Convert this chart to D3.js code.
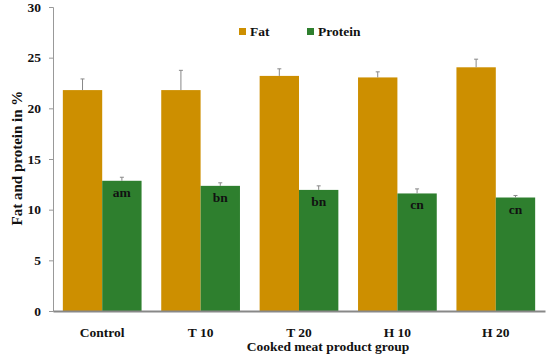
<!DOCTYPE html>
<html>
<head>
<meta charset="utf-8">
<script src="https://d3js.org/d3.v7.min.js"></script>
<style>
  body { margin: 0; background: #fff; }
  text { font-family: "Liberation Serif", "DejaVu Serif", serif; font-weight: bold; fill: #111; }
</style>
</head>
<body>
<svg id="chart" width="550" height="360"></svg>
<script>
// data
const groups = ["Control", "T 10", "T 20", "H 10", "H 20"];
const fat = [21.8, 21.8, 23.2, 23.05, 24.05];
const fatErr = [1.1, 1.95, 0.7, 0.55, 0.8];
const protein = [12.85, 12.35, 11.95, 11.6, 11.2];
const proteinErr = [0.35, 0.3, 0.4, 0.45, 0.2];
const proteinLabels = ["am", "bn", "bn", "cn", "cn"];
const yTicks = [0, 5, 10, 15, 20, 25, 30];

const colors = { Fat: "#CD8F00", Protein: "#2E7F2E" };

const svg = d3.select("#chart");
const plotL = 53, plotR = 545, plotT = 7, plotB = 311;

const x = d3.scaleBand().domain(groups).range([plotL, plotR]).paddingInner(0.2).paddingOuter(0.1);
const sub = d3.scaleBand().domain(["Fat", "Protein"]).range([0, x.bandwidth()]);
const y = d3.scaleLinear().domain([0, 30]).range([plotB, plotT]);

// y axis
const yAxis = svg.append("g")
    .attr("transform", `translate(${plotL},0)`)
    .call(d3.axisLeft(y).tickValues(yTicks).tickSize(4).tickPadding(8));
yAxis.select(".domain").attr("stroke", "#999").attr("stroke-width", 1);
yAxis.selectAll(".tick line").attr("stroke", "#999");
yAxis.selectAll(".tick text").style("font-size", "13.5px").attr("fill", "#111");

const rows = groups.map((g, i) => ({ g, fat: fat[i], fe: fatErr[i], pr: protein[i], pe: proteinErr[i], lab: proteinLabels[i] }));

// bars
const grp = svg.append("g").selectAll("g").data(rows).join("g")
    .attr("transform", d => `translate(${x(d.g)},0)`);

grp.append("rect")
    .attr("x", sub("Fat")).attr("width", sub.bandwidth())
    .attr("y", d => y(d.fat)).attr("height", d => y(0) - y(d.fat))
    .attr("fill", colors.Fat);
grp.append("rect")
    .attr("x", sub("Protein")).attr("width", sub.bandwidth())
    .attr("y", d => y(d.pr)).attr("height", d => y(0) - y(d.pr))
    .attr("fill", colors.Protein);

// error bars (upper only)
function errBar(sel, key, val, err) {
  const cx = sub(key) + sub.bandwidth() / 2;
  sel.append("line").attr("x1", cx).attr("x2", cx)
    .attr("y1", d => y(d[val])).attr("y2", d => y(d[val] + d[err]))
    .attr("stroke", "#888").attr("stroke-width", 1);
  sel.append("line").attr("x1", cx - 2).attr("x2", cx + 2)
    .attr("y1", d => y(d[val] + d[err])).attr("y2", d => y(d[val] + d[err]))
    .attr("stroke", "#888").attr("stroke-width", 1);
}
errBar(grp, "Fat", "fat", "fe");
errBar(grp, "Protein", "pr", "pe");

// letters in protein bars
grp.append("text")
    .attr("x", sub("Protein") + sub.bandwidth() / 2)
    .attr("y", d => y(d.pr) + 16)
    .attr("text-anchor", "middle")
    .style("font-size", "13.5px")
    .text(d => d.lab);

// x axis
const xAxis = svg.append("g")
    .attr("transform", `translate(0,${plotB})`)
    .call(d3.axisBottom(x).tickSize(0).tickPadding(16));
xAxis.select(".domain").attr("stroke", "#888").attr("stroke-width", 2);
xAxis.selectAll(".tick text").style("font-size", "13.5px").attr("fill", "#111");

// axis titles
svg.append("text")
    .attr("x", 328).attr("y", 351)
    .attr("text-anchor", "middle")
    .style("font-size", "13.5px")
    .text("Cooked meat product group");

svg.append("text")
    .attr("transform", "translate(22,158) rotate(-90)")
    .attr("text-anchor", "middle")
    .style("font-size", "15px")
    .text("Fat and protein in %");

// legend
const legend = [["Fat", 239], ["Protein", 307]];
legend.forEach(([name, lx]) => {
  svg.append("rect").attr("x", lx).attr("y", 28).attr("width", 7).attr("height", 7).attr("fill", colors[name]);
  svg.append("text").attr("x", lx + 11).attr("y", 36).style("font-size", "13.5px").text(name);
});
</script>
</body>
</html>
